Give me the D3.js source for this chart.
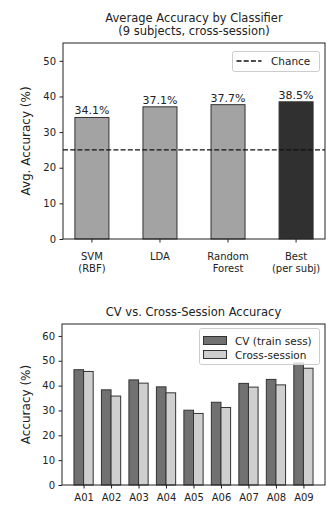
<!DOCTYPE html>
<html lang="en">
<head>
<meta charset="utf-8">
<title>Classifier accuracy</title>
<style>
  html, body { margin: 0; padding: 0; background: #fff; }
  svg { display: block; font-family: "DejaVu Sans", sans-serif; }
  .tick text { fill: #222; }
  .tick line { stroke: #222; }
</style>
</head>
<body>
<svg id="chart" width="326" height="505"></svg>
<script src="https://cdn.jsdelivr.net/npm/d3@7"></script>
<script>
// top chart data
var classifiers = [["SVM", "(RBF)"], ["LDA"], ["Random", "Forest"], ["Best", "(per subj)"]];
var avgAcc = [34.1, 37.1, 37.7, 38.5];
var chanceLevel = 25;
var topTicks = [0, 10, 20, 30, 40, 50];

// bottom chart data
var subjects = ["A01", "A02", "A03", "A04", "A05", "A06", "A07", "A08", "A09"];
var cvAcc = [46.4, 38.3, 42.3, 39.5, 30.1, 33.3, 40.9, 42.5, 49.1];
var crossAcc = [45.7, 35.8, 41.0, 37.1, 28.8, 31.2, 39.4, 40.3, 47.0];
var bottomTicks = [0, 10, 20, 30, 40, 50, 60];

var svg = d3.select("#chart");
var ink = "#222";
var edge = "#333";

// ---------- top: average accuracy by classifier ----------
var x1 = d3.scaleLinear().domain([-0.425, classifiers.length - 1 + 0.425]).range([63, 325]);
var y1 = d3.scaleLinear().domain([0, 55]).range([239, 43]);
var bw1 = 0.5;

svg.append("text")
    .attr("x", (x1.range()[0] + x1.range()[1]) / 2)
    .attr("y", 22)
    .attr("text-anchor", "middle")
    .attr("font-size", "11.5px")
    .attr("fill", ink)
    .text("Average Accuracy by Classifier");
svg.append("text")
    .attr("x", (x1.range()[0] + x1.range()[1]) / 2)
    .attr("y", 35)
    .attr("text-anchor", "middle")
    .attr("font-size", "11.5px")
    .attr("fill", ink)
    .text("(9 subjects, cross-session)");

svg.selectAll("rect.avg")
    .data(avgAcc)
    .enter()
    .append("rect")
    .attr("class", "avg")
    .attr("x", function(d, i) { return x1(i - bw1 / 2); })
    .attr("width", x1(bw1) - x1(0))
    .attr("y", function(d) { return y1(d); })
    .attr("height", function(d) { return y1(0) - y1(d); })
    .attr("fill", function(d, i) { return i === avgAcc.length - 1 ? "#303030" : "#a3a3a3"; })
    .attr("stroke", edge)
    .attr("stroke-width", 1);

svg.selectAll("text.val")
    .data(avgAcc)
    .enter()
    .append("text")
    .attr("class", "val")
    .attr("x", function(d, i) { return x1(i); })
    .attr("y", function(d) { return y1(d) - 3; })
    .attr("text-anchor", "middle")
    .attr("font-size", "11px")
    .attr("fill", ink)
    .text(function(d) { return d.toFixed(1) + "%"; });

// chance line
svg.append("line")
    .attr("x1", x1.range()[0])
    .attr("x2", x1.range()[1])
    .attr("y1", y1(chanceLevel))
    .attr("y2", y1(chanceLevel))
    .attr("stroke", "#111")
    .attr("stroke-width", 1.3)
    .attr("stroke-dasharray", "5,2.2");

// y axis
var ay1 = svg.append("g")
    .attr("transform", "translate(" + x1.range()[0] + ",0)")
    .call(d3.axisLeft(y1).tickValues(topTicks).tickSize(3.5).tickPadding(3.5));
ay1.select(".domain").remove();
ay1.selectAll("text").attr("font-size", "10px").attr("font-family", "DejaVu Sans");

// x ticks + two-line labels
var ax1 = svg.append("g");
ax1.selectAll("line")
    .data(classifiers)
    .enter()
    .append("line")
    .attr("x1", function(d, i) { return x1(i); })
    .attr("x2", function(d, i) { return x1(i); })
    .attr("y1", y1(0))
    .attr("y2", y1(0) + 3.5)
    .attr("stroke", ink);
var xl1 = ax1.selectAll("text")
    .data(classifiers)
    .enter()
    .append("text")
    .attr("text-anchor", "middle")
    .attr("font-size", "10px")
    .attr("fill", ink);
xl1.each(function(d, i) {
    var t = d3.select(this);
    d.forEach(function(line, k) {
        t.append("tspan")
            .attr("x", x1(i))
            .attr("y", 259.5 + k * 12)
            .text(line);
    });
});

svg.append("text")
    .attr("transform", "translate(29.5," + (y1.range()[0] + y1.range()[1]) / 2 + ") rotate(-90)")
    .attr("text-anchor", "middle")
    .attr("font-size", "12px")
    .attr("fill", ink)
    .text("Avg. Accuracy (%)");

// frame
svg.append("rect")
    .attr("x", x1.range()[0])
    .attr("y", y1.range()[1])
    .attr("width", x1.range()[1] - x1.range()[0])
    .attr("height", y1.range()[0] - y1.range()[1])
    .attr("fill", "none")
    .attr("stroke", ink)
    .attr("stroke-width", 1);

// legend
var lg1 = svg.append("g").attr("transform", "translate(232.5,51.5)");
lg1.append("rect")
    .attr("width", 87).attr("height", 20).attr("rx", 2)
    .attr("fill", "#fff").attr("fill-opacity", 0.8)
    .attr("stroke", "#ccc");
lg1.append("line")
    .attr("x1", 4).attr("x2", 29).attr("y1", 9.5).attr("y2", 9.5)
    .attr("stroke", "#111").attr("stroke-width", 1.3)
    .attr("stroke-dasharray", "5,2.2");
lg1.append("text")
    .attr("x", 38.5).attr("y", 13.5)
    .attr("font-size", "10.5px").attr("fill", ink)
    .text("Chance");

// ---------- bottom: CV vs cross-session ----------
var x2 = d3.scaleLinear().domain([-0.785, subjects.length - 1 + 0.785]).range([62, 325]);
var y2 = d3.scaleLinear().domain([0, 64.8]).range([485, 324]);
var bw2 = 0.35;

svg.append("text")
    .attr("x", (x2.range()[0] + x2.range()[1]) / 2)
    .attr("y", 316)
    .attr("text-anchor", "middle")
    .attr("font-size", "11.5px")
    .attr("fill", ink)
    .text("CV vs. Cross-Session Accuracy");

var series = [
    { name: "CV (train sess)", values: cvAcc, off: -bw2 / 2, color: "#717171" },
    { name: "Cross-session", values: crossAcc, off: bw2 / 2, color: "#cfcfcf" }
];

series.forEach(function(s) {
    svg.append("g").selectAll("rect")
        .data(s.values)
        .enter()
        .append("rect")
        .attr("x", function(d, i) { return x2(i + s.off - bw2 / 2); })
        .attr("width", x2(bw2) - x2(0))
        .attr("y", function(d) { return y2(d); })
        .attr("height", function(d) { return y2(0) - y2(d); })
        .attr("fill", s.color)
        .attr("stroke", edge)
        .attr("stroke-width", 1);
});

var ay2 = svg.append("g")
    .attr("transform", "translate(" + x2.range()[0] + ",0)")
    .call(d3.axisLeft(y2).tickValues(bottomTicks).tickSize(3.5).tickPadding(3.5));
ay2.select(".domain").remove();
ay2.selectAll("text").attr("font-size", "10px").attr("font-family", "DejaVu Sans");

var ax2 = svg.append("g")
    .attr("transform", "translate(0," + y2(0) + ")")
    .call(d3.axisBottom(x2).tickValues(d3.range(subjects.length))
        .tickFormat(function(i) { return subjects[i]; })
        .tickSize(3.5).tickPadding(5.5));
ax2.select(".domain").remove();
ax2.selectAll("text").attr("font-size", "10px").attr("font-family", "DejaVu Sans");

svg.append("text")
    .attr("transform", "translate(29.5," + (y2.range()[0] + y2.range()[1]) / 2 + ") rotate(-90)")
    .attr("text-anchor", "middle")
    .attr("font-size", "12px")
    .attr("fill", ink)
    .text("Accuracy (%)");

svg.append("rect")
    .attr("x", x2.range()[0])
    .attr("y", y2.range()[1])
    .attr("width", x2.range()[1] - x2.range()[0])
    .attr("height", y2.range()[0] - y2.range()[1])
    .attr("fill", "none")
    .attr("stroke", ink)
    .attr("stroke-width", 1);

var lg2 = svg.append("g").attr("transform", "translate(199.5,328.5)");
lg2.append("rect")
    .attr("width", 120).attr("height", 36).attr("rx", 2)
    .attr("fill", "#fff").attr("fill-opacity", 0.8)
    .attr("stroke", "#ccc");
lg2.selectAll("g")
    .data(series)
    .enter()
    .append("g")
    .attr("transform", function(d, i) { return "translate(0," + (12 + i * 14) + ")"; })
    .each(function(d) {
        var g = d3.select(this);
        g.append("rect")
            .attr("x", 4).attr("y", -4).attr("width", 23).attr("height", 8)
            .attr("fill", d.color).attr("stroke", edge);
        g.append("text")
            .attr("x", 35.5).attr("y", 4)
            .attr("font-size", "10.5px").attr("fill", ink)
            .text(d.name);
    });
</script>
</body>
</html>
